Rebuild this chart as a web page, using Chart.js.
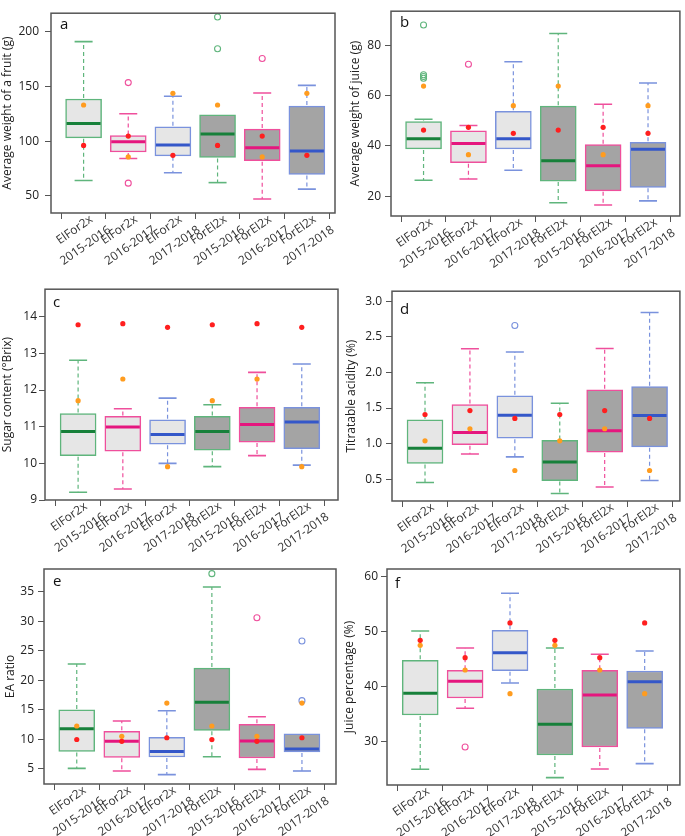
<!DOCTYPE html>
<html>
<head>
<meta charset="utf-8">
<script src="https://cdn.jsdelivr.net/npm/chart.js@4.4.1/dist/chart.umd.min.js"></script>
<style>
  body { margin: 0; background: #fff; }
  .panel { position: absolute; }
</style>
</head>
<body>
<div class="panel" style="left:0;top:0;width:342px;height:278px"><canvas id="chartA"></canvas></div>
<div class="panel" style="left:342px;top:0;width:343px;height:278px"><canvas id="chartB"></canvas></div>
<div class="panel" style="left:0;top:280px;width:342px;height:276px"><canvas id="chartC"></canvas></div>
<div class="panel" style="left:342px;top:280px;width:343px;height:276px"><canvas id="chartD"></canvas></div>
<div class="panel" style="left:0;top:556px;width:342px;height:280px"><canvas id="chartE"></canvas></div>
<div class="panel" style="left:342px;top:556px;width:343px;height:280px"><canvas id="chartF"></canvas></div>
<script>
const categories = [
    ['ElFor2x', '2015-2016'], ['ElFor2x', '2016-2017'], ['ElFor2x', '2017-2018'],
    ['ForEl2x', '2015-2016'], ['ForEl2x', '2016-2017'], ['ForEl2x', '2017-2018']
];
const groupPos = [1, 2, 3, 4, 5, 6];

// a - average weight of a fruit (g)
const fruitHigh = [191, 125, 141, 124, 144, 151];
const fruitQ3 = [138.5, 105, 113, 124, 111, 132];
const fruitMedian = [116, 99.5, 96.5, 106.5, 94, 91];
const fruitQ1 = [103, 90, 86.5, 85, 82, 69.5];
const fruitLow = [64, 84, 71, 62, 47, 56];
const fruitRed = [96, 104.6, 87, 96, 104.6, 87];
const fruitOrange = [133, 85.5, 143.7, 133, 85.5, 143.7];
const fruitOutliers = [[2, 153.5], [2, 61.5], [4, 213.5], [4, 184.5], [5, 175.5]];
const fruitTicks = [50, 100, 150, 200];

// b - average weight of juice (g)
const juiceHigh = [50.6, 48.1, 73.5, 84.7, 56.6, 65];
const juiceQ3 = [49.7, 46, 53.8, 55.8, 40.5, 41.4];
const juiceMedian = [42.8, 41, 42.8, 34.1, 32.1, 38.7];
const juiceQ1 = [38.8, 33.3, 38.8, 26, 22.1, 23.5];
const juiceLow = [26.3, 26.8, 30.3, 17.4, 16.5, 18.1];
const juiceRed = [46.3, 47.4, 45, 46.3, 47.4, 45];
const juiceOrange = [63.8, 36.5, 56, 63.8, 36.5, 56];
const juiceOutliers = [[1, 88.1], [1, 68.3], [1, 67.6], [1, 66.9], [2, 72.5]];
const juiceTicks = [20, 40, 60, 80];

// c - sugar content
const sugarHigh = [12.81, 11.49, 11.78, 11.6, 12.48, 12.71];
const sugarQ3 = [11.36, 11.28, 11.19, 11.28, 11.53, 11.53];
const sugarMedian = [10.87, 10.99, 10.79, 10.87, 11.06, 11.13];
const sugarQ1 = [10.21, 10.33, 10.52, 10.36, 10.58, 10.4];
const sugarLow = [9.21, 9.3, 10, 9.91, 10.21, 9.95];
const sugarRed = [13.78, 13.81, 13.71, 13.78, 13.81, 13.71];
const sugarOrange = [11.71, 12.3, 9.91, 11.71, 12.3, 9.91];
const sugarOutliers = [];
const sugarTicks = [9, 10, 11, 12, 13, 14];

// d - titratable acidity
const acidHigh = [1.855, 2.332, 2.286, 1.568, 2.336, 2.84];
const acidQ3 = [1.336, 1.55, 1.673, 1.045, 1.755, 1.8];
const acidMedian = [0.936, 1.155, 1.4, 0.741, 1.182, 1.395];
const acidQ1 = [0.723, 0.986, 1.077, 0.482, 0.882, 0.955];
const acidLow = [0.455, 0.855, 0.814, 0.3, 0.391, 0.482];
const acidRed = [1.409, 1.464, 1.354, 1.409, 1.464, 1.354];
const acidOrange = [1.04, 1.209, 0.623, 1.04, 1.209, 0.623];
const acidOutliers = [[3, 2.659]];
const acidTicks = [0.5, 1.0, 1.5, 2.0, 2.5, 3.0];

// e - EA ratio
const eaHigh = [22.76, 13.12, 14.86, 35.79, 13.85, 10.97];
const eaQ3 = [15, 11.37, 10.35, 22.08, 12.55, 10.97];
const eaMedian = [11.82, 9.68, 7.98, 16.28, 9.74, 8.38];
const eaQ1 = [7.98, 6.97, 7.03, 11.54, 6.86, 7.87];
const eaLow = [5.11, 4.66, 4.04, 7.08, 4.94, 4.66];
const eaRed = [9.99, 9.68, 10.29, 9.99, 9.68, 10.29];
const eaOrange = [12.27, 10.52, 16.16, 12.27, 10.52, 16.16];
const eaOutliers = [[4, 38.05], [5, 30.6], [6, 26.65], [6, 16.56]];
const eaTicks = [5, 10, 15, 20, 25, 30, 35];

// f - juice percentage
const pctHigh = [50.18, 47.09, 57.03, 47.09, 45.94, 46.55];
const pctQ3 = [44.85, 43.03, 50.3, 39.64, 43.03, 42.91];
const pctMedian = [38.85, 41.03, 46.24, 33.21, 38.55, 40.97];
const pctQ1 = [34.91, 38, 42.97, 27.64, 29.09, 32.48];
const pctLow = [25.03, 36.12, 40.73, 23.52, 25.09, 26.06];
const pctRed = [48.48, 45.33, 51.64, 48.48, 45.33, 51.64];
const pctOrange = [47.57, 43.09, 38.79, 47.57, 43.09, 38.79];
const pctOutliers = [[2, 29.09]];
const pctTicks = [30, 40, 50, 60];

const lineColors = ['#5fb57c', '#ef4f9c', '#7a92dd'];
const medianColors = ['#17803a', '#e5167e', '#3457c9'];
const boxFills = ['#e6e6e6', '#e6e6e6', '#e6e6e6', '#a4a4a4', '#a4a4a4', '#a4a4a4'];
const FONT = "'Open Sans', sans-serif";

// whiskers, caps and medians, drawn right after the box bars
const boxWhiskers = {
    id: 'boxWhiskers',
    afterDatasetDraw(chart, args) {
        const ds = chart.data.datasets[args.index];
        if (!ds.whiskerHigh) return;
        const ctx = chart.ctx;
        const y = chart.scales.y;
        args.meta.data.forEach((bar, i) => {
            const col = lineColors[i % 3];
            const x = bar.x, half = bar.width / 2;
            const pHigh = y.getPixelForValue(ds.whiskerHigh[i]);
            const pQ3 = y.getPixelForValue(ds.q3[i]);
            const pMed = y.getPixelForValue(ds.median[i]);
            const pQ1 = y.getPixelForValue(ds.q1[i]);
            const pLow = y.getPixelForValue(ds.whiskerLow[i]);
            ctx.save();
            ctx.strokeStyle = col;
            ctx.lineWidth = 1.2;
            ctx.setLineDash([4, 3]);
            ctx.beginPath();
            if (pHigh < pQ3 - 1) { ctx.moveTo(x, pQ3 - 1); ctx.lineTo(x, pHigh); }
            if (pLow > pQ1 + 1) { ctx.moveTo(x, pQ1 + 1); ctx.lineTo(x, pLow); }
            ctx.stroke();
            ctx.setLineDash([]);
            ctx.lineWidth = 1.6;
            ctx.beginPath();
            if (pHigh < pQ3 - 1) { ctx.moveTo(x - half / 2, pHigh); ctx.lineTo(x + half / 2, pHigh); }
            if (pLow > pQ1 + 1) { ctx.moveTo(x - half / 2, pLow); ctx.lineTo(x + half / 2, pLow); }
            ctx.stroke();
            ctx.strokeStyle = medianColors[i % 3];
            ctx.lineWidth = 3;
            ctx.beginPath();
            ctx.moveTo(x - half + 1, pMed);
            ctx.lineTo(x + half - 1, pMed);
            ctx.stroke();
            ctx.restore();
        });
    }
};

// frame, panel letter and the slanted two-line category labels
const frameAndLabels = {
    id: 'frameAndLabels',
    afterDraw(chart, args, opts) {
        const a = chart.chartArea, ctx = chart.ctx;
        const xs = chart.scales.x;
        ctx.save();
        ctx.strokeStyle = '#555';
        ctx.lineWidth = 1.5;
        ctx.strokeRect(a.left, a.top, a.right - a.left, a.bottom - a.top);
        ctx.fillStyle = '#111';
        ctx.font = '15px ' + FONT;
        ctx.textBaseline = 'alphabetic';
        ctx.fillText(opts.text, a.left + opts.dx, a.top + opts.dy);

        ctx.fillStyle = '#333';
        ctx.font = '12px ' + FONT;
        ctx.textAlign = 'center';
        ctx.textBaseline = 'middle';
        groupPos.forEach((pos, i) => {
            const px = xs.getPixelForValue(pos);
            ctx.save();
            ctx.translate(px - 9, a.bottom + 17);
            ctx.rotate(-35 * Math.PI / 180);
            ctx.fillText(categories[i][0], 0, 0);
            ctx.fillText(categories[i][1], 0, 19);
            ctx.restore();
        });
        ctx.restore();
    }
};

function makePanel(id, p) {
    const datasets = [
        {
            type: 'scatter',
            data: groupPos.map((x, i) => ({ x, y: p.red[i] })),
            backgroundColor: '#ff1f1f', borderWidth: 0, pointRadius: 2.6, order: 0
        },
        {
            type: 'scatter',
            data: groupPos.map((x, i) => ({ x, y: p.orange[i] })),
            backgroundColor: '#ff9c1f', borderWidth: 0, pointRadius: 2.6, order: 1
        },
        {
            type: 'scatter',
            data: p.outliers.map(o => ({ x: o[0], y: o[1] })),
            backgroundColor: 'rgba(0,0,0,0)',
            borderColor: p.outliers.map(o => lineColors[(o[0] - 1) % 3]),
            borderWidth: 1.1, pointRadius: 3, order: 1
        },
        {
            type: 'bar',
            data: groupPos.map((x, i) => ({ x, y: [p.q1[i], p.q3[i]] })),
            backgroundColor: boxFills,
            borderColor: groupPos.map((x, i) => lineColors[i % 3]),
            borderWidth: 1.5,
            borderSkipped: false,
            barThickness: 36,
            whiskerHigh: p.high, q3: p.q3, median: p.median, q1: p.q1, whiskerLow: p.low,
            order: 3
        }
    ];

    new Chart(document.getElementById(id), {
        type: 'bar',
        data: { datasets },
        plugins: [boxWhiskers, frameAndLabels],
        options: {
            responsive: true,
            maintainAspectRatio: false,
            animation: false,
            layout: { padding: { top: p.padTop, right: p.padRight, left: 0, bottom: 0 } },
            plugins: {
                legend: { display: false },
                tooltip: { enabled: false },
                frameAndLabels: { text: p.letter, dx: p.letterDx, dy: p.letterDy }
            },
            scales: {
                x: {
                    type: 'linear',
                    min: p.xMin, max: p.xMax,
                    offset: false,
                    border: { display: false },
                    grid: { drawOnChartArea: false, drawTicks: true, tickLength: 6, color: '#555' },
                    afterBuildTicks: s => { s.ticks = groupPos.map(v => ({ value: v })); },
                    afterFit: s => { s.height = p.xHeight; },
                    ticks: { display: false }
                },
                y: {
                    min: p.yMin, max: p.yMax,
                    border: { display: false },
                    grid: { drawOnChartArea: false, drawTicks: true, tickLength: 6, color: '#555' },
                    afterBuildTicks: s => { s.ticks = p.ticks.map(v => ({ value: v })); },
                    afterFit: s => { s.width = p.yWidth; },
                    title: {
                        display: true, text: p.title, color: '#222',
                        font: { family: FONT, size: 12 }, padding: { top: p.titlePad, bottom: 0 }
                    },
                    ticks: {
                        padding: p.tickPad, color: '#222',
                        font: { family: FONT, size: 12 },
                        callback: v => v.toFixed(p.decimals)
                    }
                }
            }
        }
    });
}

makePanel('chartA', {
    letter: 'a', title: 'Average weight of a fruit (g)',
    high: fruitHigh, q3: fruitQ3, median: fruitMedian, q1: fruitQ1, low: fruitLow,
    red: fruitRed, orange: fruitOrange, outliers: fruitOutliers, ticks: fruitTicks, decimals: 0,
    yMin: 34.2, yMax: 217, xMin: 0.27, xMax: 6.63,
    yWidth: 51, xHeight: 65, padTop: 1, padRight: 7, tickPad: 6, titlePad: 0, letterDx: 9, letterDy: 16
});
makePanel('chartB', {
    letter: 'b', title: 'Average weight of juice (g)',
    high: juiceHigh, q3: juiceQ3, median: juiceMedian, q1: juiceQ1, low: juiceLow,
    red: juiceRed, orange: juiceOrange, outliers: juiceOutliers, ticks: juiceTicks, decimals: 0,
    yMin: 12.1, yMax: 93.6, xMin: 0.275, xMax: 6.71,
    yWidth: 49, xHeight: 62, padTop: 2, padRight: 5, tickPad: 4, titlePad: 6, letterDx: 9, letterDy: 16
});
makePanel('chartC', {
    letter: 'c', title: 'Sugar content (°Brix)',
    high: sugarHigh, q3: sugarQ3, median: sugarMedian, q1: sugarQ1, low: sugarLow,
    red: sugarRed, orange: sugarOrange, outliers: sugarOutliers, ticks: sugarTicks, decimals: 0,
    yMin: 9, yMax: 14.75, xMin: 0.26, xMax: 6.81,
    yWidth: 45, xHeight: 56, padTop: 5, padRight: 3, tickPad: 2, titlePad: 0, letterDx: 8, letterDy: 18
});
makePanel('chartD', {
    letter: 'd', title: 'Titratable acidity (%)',
    high: acidHigh, q3: acidQ3, median: acidMedian, q1: acidQ1, low: acidLow,
    red: acidRed, orange: acidOrange, outliers: acidOutliers, ticks: acidTicks, decimals: 1,
    yMin: 0.195, yMax: 3.14, xMin: 0.265, xMax: 6.675,
    yWidth: 50, xHeight: 55, padTop: 5, padRight: 5, tickPad: 4, titlePad: 2, letterDx: 8, letterDy: 23
});
makePanel('chartE', {
    letter: 'e', title: 'EA ratio',
    high: eaHigh, q3: eaQ3, median: eaMedian, q1: eaQ1, low: eaLow,
    red: eaRed, orange: eaOrange, outliers: eaOutliers, ticks: eaTicks, decimals: 0,
    yMin: 2.46, yMax: 38.84, xMin: 0.273, xMax: 6.756,
    yWidth: 44, xHeight: 52, padTop: 13, padRight: 6, tickPad: 4, titlePad: 3, letterDx: 9, letterDy: 17
});
makePanel('chartF', {
    letter: 'f', title: 'Juice percentage (%)',
    high: pctHigh, q3: pctQ3, median: pctMedian, q1: pctQ1, low: pctLow,
    red: pctRed, orange: pctOrange, outliers: pctOutliers, ticks: pctTicks, decimals: 0,
    yMin: 22.18, yMax: 61.45, xMin: 0.26, xMax: 6.785,
    yWidth: 45, xHeight: 51, padTop: 13, padRight: 3, tickPad: 3, titlePad: 0, letterDx: 8, letterDy: 19
});
</script>
</body>
</html>
